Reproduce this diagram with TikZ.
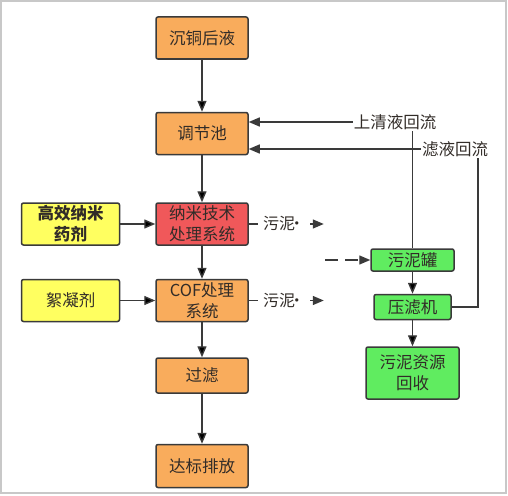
\documentclass[tikz,border=0pt]{standalone}
\usepackage{fontspec}
\setmainfont{Noto Sans CJK SC}
\usetikzlibrary{positioning,arrows.meta}

\definecolor{boxorange}{RGB}{249,172,92}
\definecolor{boxred}{RGB}{240,88,90}
\definecolor{boxyellow}{RGB}{255,255,96}
\definecolor{boxgreen}{RGB}{96,236,96}
\definecolor{edgegray}{RGB}{58,58,58}
\definecolor{textgray}{RGB}{50,44,40}

\begin{document}
\begin{tikzpicture}[x=1pt,y=1pt,font=\fontsize{16.5}{21}\selectfont,text=textgray,
	>={Triangle[length=11pt,width=9pt]},
	box/.style={draw=edgegray,line width=1.5pt,rounded corners=2pt,align=center,inner sep=0pt,
		minimum width=92pt,minimum height=42pt},
	work/.style={box,fill=boxorange},
	agent/.style={box,fill=boxyellow,minimum width=98pt},
	sludge/.style={box,fill=boxgreen},
	flow/.style={->,draw=edgegray,line width=1.4pt},
	sludgeout/.style={flow,shorten >=0pt},
	note/.style={fill=white,inner xsep=5pt,inner ysep=2pt,font=\fontsize{16}{18}\selectfont}]
		\useasboundingbox (0,0) rectangle (508,-495);
		\draw[color={rgb,255:red,200;green,200;blue,200},line width=1.5pt] (1,-1) rectangle (506,-493);

		\node[work]                             (SourceLiquor)  at (202,-38) {沉铜后液};
		\node[work,below=52pt of SourceLiquor]  (RegPool)       {调节池};
		\node[box,fill=boxred,below=47pt of RegPool] (NanoSystem) {纳米技术\\处理系统};
		\node[work,below=33pt of NanoSystem]    (CofSystem)     {COF处理\\系统};
		\node[work,below=35pt of CofSystem,minimum height=35pt] (Filter) {过滤};
		\node[work,below=50pt of Filter,minimum height=43pt]    (Discharge) {达标排放};

		\node[agent,left=35pt of NanoSystem]    (NanoAgent)     {\bfseries 高效纳米\\\bfseries 药剂};
		\node[agent,left=35pt of CofSystem]     (Flocculant)    {絮凝剂};

		\node[sludge,minimum width=83pt,minimum height=22pt] (SludgeTank) at (412.5,-260) {污泥罐};
		\node[sludge,below=22pt of SludgeTank,minimum width=77pt,minimum height=25pt] (FilterPress) {压滤机};
		\node[sludge,below=26pt of FilterPress,minimum width=93pt,minimum height=52pt] (SludgeRecycle) {污泥资源\\回收};

		\node[inner sep=1pt] (Supernatant) at (395,-122) {上清液回流};
		\node[inner sep=1pt] (Filtrate)    at (455,-149) {滤液回流};
		\coordinate (FiltrateTurn) at ([xshift=23pt]Filtrate.south);
		\coordinate (DashStart)    at (325,-260);

		\path[flow] (SourceLiquor) edge (RegPool)
		            (RegPool)      edge (NanoSystem)
		            (NanoSystem)   edge (CofSystem)
		            (CofSystem)    edge (Filter)
		            (Filter)       edge (Discharge)
		            (NanoAgent)    edge (NanoSystem)
		            (Flocculant)   edge (CofSystem)
		            (SludgeTank)   edge (FilterPress)
		            (FilterPress)  edge (SludgeRecycle);

		\draw[sludgeout] (NanoSystem.east) -- ++(75pt,0) node[note,pos=.47] {污泥\kern-.38em·};
		\draw[sludgeout] (CofSystem.east)  -- ++(75pt,0) node[note,pos=.47] {污泥\kern-.38em·};
		\draw[flow,dash pattern=on 13pt off 7pt] (DashStart) -- (SludgeTank);

		\draw[draw=edgegray,line width=1.4pt] (SludgeTank) -- (SludgeTank |- Supernatant.south);
		\draw[flow] (Supernatant.west) -- (Supernatant.west -| RegPool.east);
		\draw[draw=edgegray,line width=1.4pt] (FilterPress.east) -| (FiltrateTurn);
		\draw[flow] (Filtrate.west) -- (Filtrate.west -| RegPool.east);
	\end{tikzpicture}
\end{document}
